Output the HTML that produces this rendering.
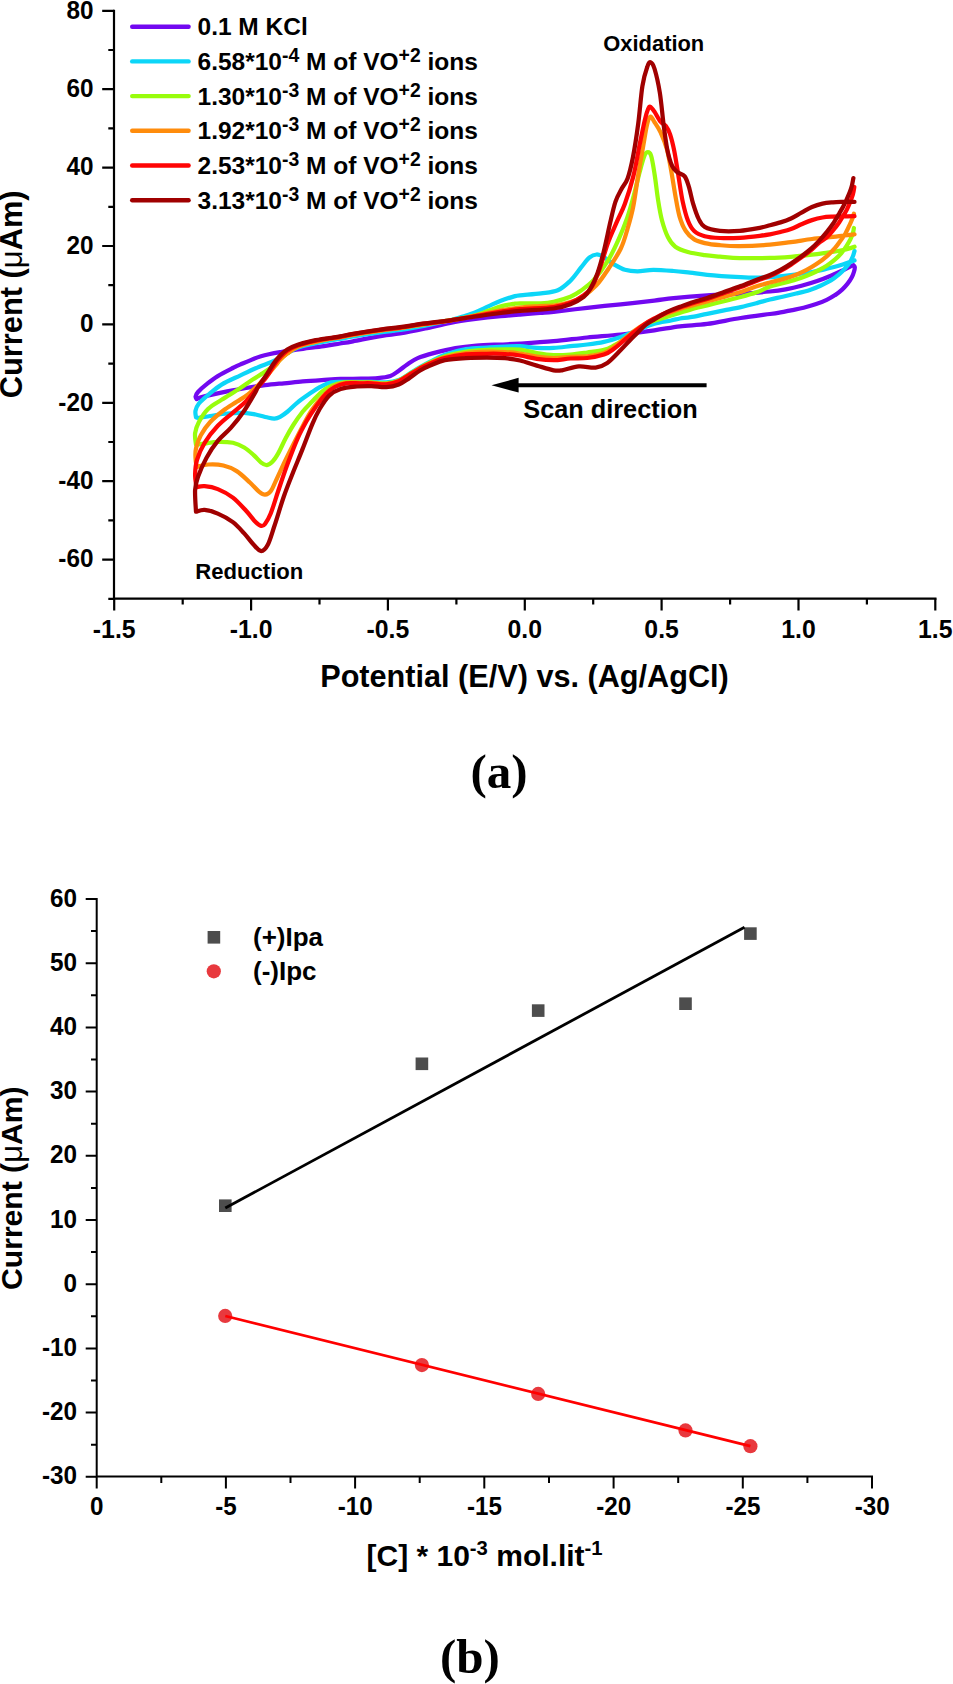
<!DOCTYPE html><html><head><meta charset="utf-8"><title>CV figure</title>
<style>html,body{margin:0;padding:0;background:#fff}svg{display:block}text{font-family:"Liberation Sans",sans-serif;font-weight:bold;fill:#000}.s{font-family:"Liberation Serif",serif}</style></head><body>
<svg width="953" height="1684" viewBox="0 0 953 1684">
<rect width="953" height="1684" fill="#fff"/>
<g stroke="#000" stroke-width="2.2" fill="none" stroke-linecap="butt">
<path d="M114.0 9.8V598.6H936.5"/>
<path d="M114.0 559.6H102.2M114.0 481.2H102.2M114.0 402.8H102.2M114.0 324.4H102.2M114.0 246.0H102.2M114.0 167.6H102.2M114.0 89.2H102.2M114.0 10.8H102.2M114.0 598.8H108.3M114.0 520.4H108.3M114.0 442.0H108.3M114.0 363.6H108.3M114.0 285.2H108.3M114.0 206.8H108.3M114.0 128.4H108.3M114.0 50.0H108.3M114.2 598.6V610.4M251.1 598.6V610.4M387.9 598.6V610.4M524.8 598.6V610.4M661.6 598.6V610.4M798.5 598.6V610.4M935.3 598.6V610.4M182.7 598.6V604.6M319.5 598.6V604.6M456.4 598.6V604.6M593.2 598.6V604.6M730.1 598.6V604.6M866.9 598.6V604.6"/>
</g>
<g font-size="24.3" text-anchor="end">
<text transform="translate(93.4 567.4) scale(1 1.07)">-60</text>
<text transform="translate(93.4 489.0) scale(1 1.07)">-40</text>
<text transform="translate(93.4 410.6) scale(1 1.07)">-20</text>
<text transform="translate(93.4 332.2) scale(1 1.07)">0</text>
<text transform="translate(93.4 253.8) scale(1 1.07)">20</text>
<text transform="translate(93.4 175.4) scale(1 1.07)">40</text>
<text transform="translate(93.4 97.0) scale(1 1.07)">60</text>
<text transform="translate(93.4 18.6) scale(1 1.07)">80</text>
</g>
<g font-size="24.8" text-anchor="middle">
<text transform="translate(114.2 638.1) scale(1 1.06)">-1.5</text>
<text transform="translate(251.1 638.1) scale(1 1.06)">-1.0</text>
<text transform="translate(387.9 638.1) scale(1 1.06)">-0.5</text>
<text transform="translate(524.8 638.1) scale(1 1.06)">0.0</text>
<text transform="translate(661.6 638.1) scale(1 1.06)">0.5</text>
<text transform="translate(798.5 638.1) scale(1 1.06)">1.0</text>
<text transform="translate(935.3 638.1) scale(1 1.06)">1.5</text>
</g>
<text font-size="30.8" text-anchor="middle" transform="translate(22.2 294.3) rotate(-90)">Current (<tspan font-weight="normal" font-size="31">μ</tspan>Am)</text>
<text font-size="30.65" text-anchor="middle" x="524.5" y="686.9">Potential (E/V) vs. (Ag/AgCl)</text>
<text class="s" font-size="49" text-anchor="middle" x="499" y="788">(a)</text>
<path d="M132.2 26.7H188.6" stroke="#7208f0" stroke-width="4.4" stroke-linecap="round" fill="none"/>
<text font-size="24.5" x="197.5" y="35.1">0.1 M KCl</text>
<path d="M132.2 61.4H188.6" stroke="#0cd6f8" stroke-width="4.4" stroke-linecap="round" fill="none"/>
<text font-size="24.5" x="197.5" y="69.8">6.58*10<tspan font-size="19.4" dy="-7.8">-4</tspan><tspan dy="7.8"> M of VO</tspan><tspan font-size="19.4" dy="-7.8">+2</tspan><tspan dy="7.8"> ions</tspan></text>
<path d="M132.2 96.1H188.6" stroke="#98fd0c" stroke-width="4.4" stroke-linecap="round" fill="none"/>
<text font-size="24.5" x="197.5" y="104.5">1.30*10<tspan font-size="19.4" dy="-7.8">-3</tspan><tspan dy="7.8"> M of VO</tspan><tspan font-size="19.4" dy="-7.8">+2</tspan><tspan dy="7.8"> ions</tspan></text>
<path d="M132.2 130.8H188.6" stroke="#ff8c0c" stroke-width="4.4" stroke-linecap="round" fill="none"/>
<text font-size="24.5" x="197.5" y="139.2">1.92*10<tspan font-size="19.4" dy="-7.8">-3</tspan><tspan dy="7.8"> M of VO</tspan><tspan font-size="19.4" dy="-7.8">+2</tspan><tspan dy="7.8"> ions</tspan></text>
<path d="M132.2 165.5H188.6" stroke="#ff0505" stroke-width="4.4" stroke-linecap="round" fill="none"/>
<text font-size="24.5" x="197.5" y="173.9">2.53*10<tspan font-size="19.4" dy="-7.8">-3</tspan><tspan dy="7.8"> M of VO</tspan><tspan font-size="19.4" dy="-7.8">+2</tspan><tspan dy="7.8"> ions</tspan></text>
<path d="M132.2 200.2H188.6" stroke="#a00000" stroke-width="4.4" stroke-linecap="round" fill="none"/>
<text font-size="24.5" x="197.5" y="208.6">3.13*10<tspan font-size="19.4" dy="-7.8">-3</tspan><tspan dy="7.8"> M of VO</tspan><tspan font-size="19.4" dy="-7.8">+2</tspan><tspan dy="7.8"> ions</tspan></text>
<g fill="none" stroke-width="4.25" stroke-linejoin="round" stroke-linecap="round">
<path stroke="#7208f0" d="M853.4 265.2C853.6 265.6 854.7 266.2 854.8 267.3C854.9 268.4 854.4 270.3 853.9 272.0C853.4 273.7 852.8 275.4 851.8 277.3C850.8 279.2 849.2 281.6 847.6 283.6C846.0 285.6 844.5 287.4 842.4 289.3C840.3 291.2 837.7 293.4 835.1 295.1C832.5 296.9 829.9 298.3 826.7 299.8C823.6 301.3 820.1 302.7 816.2 304.0C812.4 305.3 807.8 306.6 803.6 307.7C799.4 308.8 794.9 309.5 791.0 310.3C787.1 311.1 784.0 311.8 780.5 312.4C777.0 313.0 776.6 313.1 770.0 314.0C763.4 314.9 751.2 316.4 740.7 318.0C730.2 319.6 717.3 322.5 707.2 323.9C697.1 325.3 688.8 325.3 680.0 326.4C671.2 327.5 664.2 328.9 654.3 330.3C644.4 331.7 631.9 333.3 620.7 334.5C609.5 335.7 598.4 336.4 587.2 337.5C576.0 338.6 564.8 340.2 553.6 341.2C542.4 342.2 528.9 343.1 520.0 343.7C511.1 344.2 507.3 344.2 500.0 344.5C492.7 344.8 483.8 345.0 476.4 345.6C469.0 346.2 462.4 346.9 455.4 348.1C448.4 349.3 440.7 351.2 434.4 352.9C428.1 354.6 422.2 356.2 417.7 358.1C413.2 360.0 410.3 362.3 407.2 364.4C404.1 366.5 401.6 368.8 398.8 370.7C396.0 372.6 393.9 374.8 390.4 376.0C386.9 377.2 382.7 377.7 377.8 378.1C372.9 378.6 367.2 378.6 361.0 378.7C354.8 378.8 347.2 378.7 340.6 378.9C334.1 379.1 328.0 379.7 321.7 380.1C315.4 380.5 309.1 380.9 302.8 381.4C296.5 381.9 290.2 382.7 283.9 383.3C277.6 383.9 271.3 384.4 265.0 385.2C258.7 386.0 252.4 387.0 246.1 388.0C239.8 389.0 232.9 390.3 227.2 391.4C221.5 392.5 216.5 393.6 212.1 394.6C207.7 395.6 203.4 396.7 200.8 397.4C198.2 398.1 197.3 398.7 196.6 399.0L196.6 399.0C196.4 398.6 195.4 397.7 195.6 396.5C195.8 395.3 196.2 394.0 198.0 392.0C199.8 390.0 203.1 387.0 206.4 384.4C209.7 381.8 213.4 378.8 217.8 376.1C222.2 373.4 229.2 369.9 232.9 368.0C236.6 366.1 235.3 366.6 240.0 364.6C244.7 362.6 254.0 358.3 261.0 356.2C268.0 354.1 275.0 353.0 282.0 351.8C289.0 350.6 296.0 349.7 303.0 348.8C310.0 347.9 317.7 347.1 323.9 346.2C330.1 345.3 335.1 344.3 340.0 343.5C344.9 342.7 346.0 342.6 353.0 341.3C360.0 340.0 374.2 337.1 382.0 335.8C389.8 334.5 392.8 334.7 400.0 333.5C407.2 332.3 416.8 330.3 425.2 328.5C433.6 326.7 442.0 324.4 450.4 322.8C458.8 321.2 467.2 320.1 475.6 319.0C484.0 317.9 493.4 316.9 500.8 316.2C508.2 315.5 513.5 315.1 520.0 314.6C526.5 314.1 534.4 313.5 540.0 313.0C545.6 312.5 545.7 312.7 553.6 311.8C561.5 310.9 576.0 309.1 587.2 307.9C598.4 306.6 609.5 305.5 620.7 304.3C631.9 303.1 645.5 301.6 654.3 300.6C663.1 299.6 664.8 299.1 673.6 298.2C682.4 297.3 696.0 296.1 707.2 295.3C718.4 294.6 730.2 294.3 740.7 293.7C751.2 293.1 762.5 292.2 770.0 291.5C777.5 290.8 780.5 290.3 785.7 289.3C791.0 288.3 796.2 287.1 801.5 285.7C806.8 284.3 812.3 282.7 817.2 281.0C822.1 279.3 826.9 277.4 830.9 275.7C834.9 274.0 838.3 272.5 841.4 271.0C844.5 269.5 847.7 267.8 849.7 266.8C851.7 265.8 852.8 265.5 853.4 265.2"/>
<path stroke="#0cd6f8" d="M854.5 251.0C854.2 251.9 853.7 254.4 852.9 256.3C852.1 258.2 850.9 260.7 849.7 262.6C848.5 264.5 847.3 265.9 845.6 267.8C843.9 269.7 841.8 272.0 839.3 274.1C836.8 276.2 834.0 278.5 830.9 280.4C827.8 282.3 823.9 284.1 820.4 285.7C816.9 287.3 813.9 288.6 809.9 289.9C805.9 291.2 800.8 292.4 796.2 293.5C791.7 294.6 787.0 295.7 782.6 296.7C778.2 297.7 774.2 298.5 770.0 299.5C765.8 300.5 762.4 301.6 757.5 302.9C752.6 304.2 746.3 305.9 740.7 307.1C735.1 308.4 729.6 309.3 724.0 310.4C718.4 311.5 712.8 312.7 707.2 313.8C701.6 314.9 694.9 316.4 690.4 317.2C685.9 318.0 683.2 317.9 680.0 318.5C676.8 319.1 675.4 319.6 671.1 320.5C666.8 321.4 659.9 322.1 654.3 323.7C648.7 325.3 643.1 328.1 637.5 330.3C631.9 332.5 626.3 335.1 620.7 337.0C615.1 338.9 609.6 340.6 604.0 341.8C598.4 343.1 592.8 343.8 587.2 344.5C581.6 345.2 576.0 345.6 570.4 346.2C564.8 346.8 559.2 347.6 553.6 347.9C548.0 348.2 542.4 348.2 536.8 347.9C531.2 347.6 525.3 346.4 520.0 346.2C514.7 346.0 510.5 346.4 505.0 346.6C499.5 346.8 493.4 347.2 486.9 347.6C480.4 348.0 472.9 348.0 465.9 349.2C458.9 350.4 450.8 352.7 444.9 354.8C438.9 356.9 434.4 359.6 430.2 361.7C426.0 363.8 423.2 365.4 419.7 367.4C416.2 369.4 412.8 371.7 409.3 373.8C405.8 375.9 402.7 378.6 398.8 380.0C394.9 381.4 390.8 382.1 386.2 382.4C381.6 382.7 375.9 382.0 371.5 381.9C367.1 381.8 364.2 381.9 360.0 381.9C355.8 381.9 351.0 381.8 346.2 381.9C341.4 382.0 335.5 381.4 331.1 382.3C326.7 383.2 323.6 385.1 319.8 387.1C316.0 389.2 312.2 392.0 308.4 394.6C304.6 397.2 300.6 400.0 297.1 402.8C293.7 405.6 290.5 409.2 287.7 411.5C284.9 413.8 282.3 415.6 280.1 416.8C277.9 418.0 276.6 418.5 274.4 418.6C272.2 418.7 270.0 418.0 266.9 417.3C263.8 416.6 259.4 415.2 255.6 414.5C251.8 413.8 248.9 413.1 244.2 412.9C239.5 412.7 232.9 413.0 227.2 413.5C221.5 414.0 214.9 415.3 210.2 416.0C205.5 416.7 201.3 417.6 198.9 417.8C196.5 418.0 196.5 417.4 196.0 417.3L196.0 417.3C195.9 416.2 195.0 413.0 195.5 410.7C196.0 408.4 196.8 406.1 198.9 403.5C201.0 400.9 204.5 397.9 208.3 394.8C212.1 391.7 216.3 387.8 221.6 384.6C226.9 381.4 234.3 378.3 240.0 375.6C245.7 372.9 250.4 370.6 255.7 368.3C260.9 366.0 267.4 363.8 271.5 362.0C275.6 360.2 277.4 359.1 280.0 357.7C282.6 356.3 284.0 355.2 287.0 353.5C290.0 351.8 293.6 349.1 298.0 347.5C302.4 345.9 308.3 344.9 313.5 343.7C318.7 342.5 324.8 341.4 329.2 340.6C333.6 339.8 336.0 339.7 340.0 339.0C344.0 338.3 346.0 337.6 353.0 336.5C360.0 335.4 374.2 333.2 382.0 332.1C389.8 331.0 392.8 331.1 400.0 330.0C407.2 328.9 416.8 327.2 425.2 325.6C433.6 324.0 444.1 321.8 450.4 320.3C456.7 318.8 458.8 317.9 463.0 316.5C467.2 315.1 471.4 313.8 475.6 312.1C479.8 310.4 484.0 308.3 488.2 306.4C492.4 304.5 496.6 302.3 500.8 300.7C505.0 299.1 510.2 297.5 513.4 296.6C516.6 295.7 515.4 295.8 520.0 295.3C524.6 294.8 534.7 294.2 541.0 293.4C547.3 292.5 552.9 292.3 557.8 290.2C562.7 288.1 566.5 284.4 570.4 280.7C574.2 276.9 577.8 271.5 580.9 267.7C584.0 263.9 586.7 259.9 589.3 257.7C591.9 255.5 594.2 254.6 596.6 254.5C599.0 254.4 600.9 255.5 603.9 257.2C606.9 258.9 610.9 262.5 614.4 264.6C617.9 266.7 621.0 268.7 624.9 269.8C628.8 270.9 632.8 271.3 637.5 271.3C642.2 271.3 647.4 269.9 653.4 269.8C659.4 269.8 667.5 270.5 673.6 271.0C679.7 271.5 684.4 272.1 690.0 272.7C695.6 273.3 698.8 274.1 707.2 274.8C715.7 275.6 732.3 276.7 740.7 277.2C749.1 277.7 751.9 277.8 757.5 277.7C763.1 277.6 768.7 277.3 774.3 276.9C779.9 276.5 784.7 276.0 791.0 275.2C797.3 274.4 806.8 272.9 812.0 272.0C817.2 271.1 819.0 270.7 822.5 269.9C826.0 269.1 829.5 268.2 833.0 267.3C836.5 266.4 840.7 265.1 843.5 264.2C846.3 263.3 847.9 262.7 849.7 262.1C851.5 261.5 853.7 260.8 854.5 260.5"/>
<path stroke="#98fd0c" d="M853.9 228.0C853.7 228.9 853.5 231.3 852.9 233.2C852.3 235.1 851.3 237.4 850.3 239.5C849.2 241.6 848.1 243.5 846.6 245.8C845.1 248.1 843.3 250.8 841.4 253.1C839.5 255.4 837.5 257.3 835.1 259.4C832.7 261.5 829.7 263.8 826.7 265.7C823.7 267.6 820.5 269.3 817.2 271.0C813.9 272.7 810.2 274.3 806.7 275.7C803.2 277.1 800.1 278.2 796.2 279.4C792.4 280.6 788.0 281.8 783.6 283.0C779.2 284.2 774.4 285.1 770.0 286.6C765.6 288.1 762.4 290.3 757.5 292.0C752.6 293.7 746.3 295.5 740.7 297.0C735.1 298.5 729.6 299.8 724.0 301.2C718.4 302.6 712.8 304.0 707.2 305.4C701.6 306.8 696.0 308.1 690.4 309.6C684.8 311.1 678.7 313.0 673.6 314.6C668.5 316.2 664.8 317.4 660.0 319.0C655.2 320.6 649.3 322.2 645.0 324.5C640.7 326.8 637.7 330.0 634.2 332.5C630.7 335.0 627.5 337.3 624.1 339.5C620.7 341.7 617.4 343.8 614.0 345.5C610.6 347.2 608.5 348.6 604.0 349.8C599.5 351.0 592.8 351.7 587.2 352.5C581.6 353.3 576.0 354.2 570.4 354.6C564.8 355.0 559.2 355.4 553.6 355.1C548.0 354.8 542.4 353.9 536.8 353.0C531.2 352.1 525.3 350.2 520.0 349.6C514.7 349.0 510.5 349.4 505.0 349.4C499.5 349.4 493.4 349.4 486.9 349.8C480.4 350.2 472.9 350.4 465.9 351.5C458.9 352.6 450.8 354.5 444.9 356.3C438.9 358.1 434.4 360.6 430.2 362.5C426.0 364.4 423.2 366.0 419.7 368.0C416.2 370.0 412.8 372.2 409.3 374.3C405.8 376.4 402.7 379.1 398.8 380.6C394.9 382.1 390.8 383.0 386.2 383.3C381.6 383.6 375.9 382.6 371.5 382.4C367.1 382.2 364.9 382.3 360.0 382.3C355.1 382.3 347.2 382.0 342.4 382.6C337.6 383.2 334.6 384.5 331.1 386.0C327.7 387.5 324.9 389.2 321.7 391.8C318.5 394.4 315.3 398.2 312.2 401.5C309.1 404.8 305.9 407.6 302.8 411.5C299.7 415.4 296.1 420.6 293.3 425.0C290.5 429.4 288.3 433.3 285.8 438.0C283.3 442.7 280.4 449.5 278.2 453.4C276.0 457.3 274.5 459.6 272.6 461.5C270.7 463.4 268.8 464.9 266.9 465.1C265.0 465.3 263.4 464.3 261.2 462.6C259.0 460.9 256.5 457.6 253.7 455.1C250.9 452.6 247.7 449.6 244.2 447.5C240.7 445.4 237.3 443.8 232.9 442.8C228.5 441.9 222.5 441.7 217.8 441.8C213.1 441.9 208.2 443.2 204.6 443.7C201.0 444.2 197.4 444.5 196.0 444.7L196.0 444.7C195.8 442.8 194.6 437.1 195.1 433.3C195.6 429.5 196.7 426.1 198.9 422.0C201.1 417.9 204.5 412.5 208.3 408.8C212.1 405.1 216.3 403.2 221.6 399.8C226.9 396.4 235.2 391.3 240.0 388.2C244.8 385.1 246.5 383.6 250.5 381.0C254.5 378.4 260.9 374.5 264.1 372.4C267.4 370.3 268.0 369.7 270.0 368.4C272.0 367.1 274.4 366.0 276.0 364.6C277.6 363.1 278.0 361.6 279.9 359.7C281.8 357.8 284.2 355.5 287.2 353.3C290.2 351.1 293.3 348.5 297.7 346.6C302.1 344.7 308.2 343.4 313.5 342.1C318.8 340.8 324.8 339.6 329.2 338.8C333.6 338.0 336.0 337.9 340.0 337.2C344.0 336.5 346.0 335.8 353.0 334.6C360.0 333.4 374.2 331.2 382.0 330.1C389.8 329.0 392.8 329.0 400.0 328.0C407.2 327.0 416.8 325.4 425.2 324.1C433.6 322.8 444.1 321.2 450.4 320.2C456.7 319.2 458.8 318.7 463.0 317.9C467.2 317.1 471.4 316.4 475.6 315.2C479.8 314.0 484.0 312.3 488.2 310.8C492.4 309.3 496.6 307.5 500.8 306.4C505.0 305.2 510.2 304.4 513.4 303.9C516.6 303.4 515.4 303.4 520.0 303.3C524.6 303.2 535.4 303.6 541.0 303.3C546.6 303.1 548.7 302.9 553.6 301.8C558.5 300.7 565.9 298.5 570.4 296.7C574.9 294.9 576.5 293.8 580.4 291.0C584.2 288.2 588.9 285.3 593.5 280.2C598.1 275.1 603.9 267.1 608.1 260.3C612.3 253.5 615.5 246.4 618.6 239.4C621.8 232.4 624.5 225.4 627.0 218.4C629.5 211.4 631.2 205.1 633.3 197.4C635.4 189.7 637.9 178.8 639.6 172.2C641.4 165.5 642.6 160.8 643.8 157.5C645.0 154.2 645.8 152.7 647.0 152.3C648.2 152.0 649.7 151.7 651.0 155.4C652.3 159.1 653.4 167.0 654.6 174.3C655.8 181.7 656.8 191.8 658.0 199.5C659.2 207.2 660.3 214.2 662.0 220.5C663.7 226.8 665.8 232.9 668.0 237.3C670.2 241.7 672.0 244.2 675.3 246.7C678.6 249.1 683.0 250.6 687.9 252.0C692.8 253.4 699.4 254.3 704.7 255.1C710.1 255.9 714.1 256.1 720.0 256.6C725.9 257.1 731.5 257.9 739.8 258.1C748.1 258.3 761.5 258.1 770.0 257.9C778.5 257.7 784.0 257.3 791.0 256.8C798.0 256.3 805.9 255.4 812.0 254.7C818.1 254.0 823.3 253.2 827.7 252.6C832.1 252.0 834.9 251.6 838.2 251.0C841.5 250.4 845.0 249.6 847.7 248.9C850.4 248.2 853.4 247.2 854.5 246.8"/>
<path stroke="#ff8c0c" d="M853.9 213.8C853.6 214.6 853.1 216.7 852.4 218.5C851.7 220.3 850.8 222.4 849.7 224.8C848.6 227.2 847.0 230.8 845.6 233.2C844.2 235.6 843.1 237.1 841.4 239.5C839.6 241.9 837.5 245.1 835.1 247.9C832.7 250.7 829.7 253.7 826.7 256.3C823.7 258.9 820.5 261.3 817.2 263.6C813.9 265.9 810.2 268.0 806.7 269.9C803.2 271.8 800.1 273.2 796.2 274.7C792.4 276.2 788.0 277.6 783.6 278.9C779.2 280.2 774.4 281.3 770.0 282.5C765.6 283.7 762.4 284.5 757.5 286.1C752.6 287.7 746.3 290.2 740.7 292.0C735.1 293.8 729.6 295.4 724.0 297.0C718.4 298.6 712.8 300.0 707.2 301.5C701.6 303.0 694.9 304.8 690.4 306.0C685.9 307.2 684.3 307.6 680.0 309.0C675.7 310.4 668.7 312.8 664.4 314.5C660.1 316.2 657.7 317.4 654.3 319.0C650.9 320.6 647.6 322.4 644.2 324.4C640.9 326.4 637.6 328.6 634.2 331.0C630.9 333.4 627.5 336.3 624.1 339.0C620.7 341.7 617.4 344.8 614.0 347.1C610.6 349.4 608.5 351.5 604.0 353.0C599.5 354.5 592.8 355.7 587.2 356.3C581.6 356.9 576.0 356.5 570.4 356.8C564.8 357.1 559.2 358.0 553.6 358.0C548.0 358.0 542.4 357.4 536.8 356.6C531.2 355.9 525.3 354.3 520.0 353.5C514.7 352.7 510.5 352.3 505.0 352.0C499.5 351.7 493.4 351.4 486.9 351.6C480.4 351.8 472.9 352.2 465.9 353.2C458.9 354.1 450.8 355.7 444.9 357.3C438.9 358.9 434.4 361.2 430.2 363.0C426.0 364.8 423.2 366.4 419.7 368.3C416.2 370.2 412.8 372.5 409.3 374.6C405.8 376.7 402.7 379.3 398.8 380.9C394.9 382.4 390.8 383.6 386.2 383.9C381.6 384.2 375.9 383.0 371.5 382.8C367.1 382.6 364.5 382.8 360.0 382.8C355.5 382.8 348.8 382.3 344.3 383.0C339.8 383.7 336.4 384.9 333.0 387.0C329.6 389.1 327.1 391.8 323.6 395.5C320.1 399.2 315.7 404.4 312.2 409.5C308.7 414.6 305.9 420.2 302.8 426.0C299.7 431.8 296.5 438.2 293.3 444.5C290.1 450.8 286.7 457.6 283.9 463.5C281.1 469.4 278.5 475.2 276.3 479.8C274.1 484.4 272.6 488.8 270.7 491.3C268.8 493.8 266.9 494.6 265.0 494.7C263.1 494.8 261.8 493.9 259.3 491.9C256.8 489.9 253.7 486.0 249.9 482.5C246.1 479.0 241.1 473.9 236.7 471.1C232.3 468.3 228.1 466.6 223.4 465.5C218.7 464.4 212.8 464.2 208.3 464.5C203.8 464.8 198.5 466.6 196.5 467.0L196.5 467.0C196.3 465.5 195.6 461.1 195.5 458.0C195.4 454.9 195.1 452.2 196.0 448.4C196.9 444.6 198.4 439.6 200.8 435.2C203.2 430.8 206.4 426.1 210.2 422.0C214.0 417.9 219.0 413.9 223.4 410.5C227.8 407.1 232.6 404.5 236.7 401.8C240.8 399.1 244.2 397.3 248.0 394.3C251.8 391.3 255.8 387.4 259.3 384.0C262.8 380.6 266.0 376.8 268.8 373.6C271.6 370.4 274.1 367.3 276.0 365.0C277.9 362.7 278.0 361.9 279.9 360.0C281.8 358.1 284.2 355.8 287.2 353.6C290.2 351.4 293.3 348.8 297.7 346.9C302.1 345.0 308.2 343.7 313.5 342.4C318.8 341.1 324.8 339.8 329.2 339.0C333.6 338.2 336.0 338.1 340.0 337.4C344.0 336.7 346.0 336.0 353.0 334.8C360.0 333.6 374.2 331.4 382.0 330.3C389.8 329.2 392.8 329.1 400.0 328.1C407.2 327.1 416.8 325.4 425.2 324.1C433.6 322.8 442.0 321.9 450.4 320.5C458.8 319.1 467.2 317.2 475.6 315.5C484.0 313.8 493.4 311.6 500.8 310.3C508.2 309.0 513.5 308.3 520.0 307.6C526.5 306.9 534.4 306.5 540.0 306.1C545.6 305.8 548.5 306.2 553.6 305.5C558.7 304.8 565.5 303.5 570.4 302.0C575.3 300.5 578.7 299.3 583.0 296.5C587.3 293.7 592.0 290.0 596.3 285.4C600.5 280.8 604.4 274.8 608.5 268.7C612.6 262.6 617.5 255.4 620.7 248.8C623.9 242.2 625.5 235.7 627.5 228.9C629.5 222.1 631.2 216.7 633.0 207.9C634.8 199.2 636.3 186.9 638.0 176.4C639.7 165.9 641.9 153.7 643.4 144.9C644.9 136.2 646.0 128.6 647.2 123.9C648.4 119.2 649.3 116.9 650.5 116.6C651.7 116.2 652.6 119.2 654.3 121.8C656.0 124.4 658.5 127.8 660.6 132.3C662.7 136.9 665.1 142.8 666.9 149.1C668.6 155.4 669.7 162.4 671.1 170.1C672.5 177.8 673.9 187.6 675.3 195.3C676.7 203.0 677.8 210.4 679.5 216.3C681.2 222.2 683.3 227.2 685.8 231.0C688.2 234.8 691.1 237.4 694.2 239.4C697.4 241.4 700.4 242.1 704.7 243.1C709.0 244.1 714.1 244.7 720.0 245.2C725.9 245.7 731.5 246.2 739.8 246.1C748.1 246.0 761.5 245.4 770.0 244.7C778.5 244.0 784.0 243.0 791.0 242.1C798.0 241.2 805.0 239.9 812.0 239.0C819.0 238.1 827.8 237.5 833.0 236.9C838.2 236.3 839.9 235.9 843.5 235.5C847.1 235.1 852.7 234.5 854.5 234.3"/>
<path stroke="#ff0505" d="M854.3 187.0C854.1 188.2 853.6 192.0 852.9 194.4C852.2 196.8 851.3 199.2 850.3 201.7C849.3 204.1 848.2 206.8 847.1 209.1C846.0 211.4 845.0 212.9 843.5 215.4C842.0 217.9 840.0 221.3 838.2 223.8C836.5 226.3 834.9 228.2 833.0 230.5C831.1 232.8 829.0 235.4 826.7 237.4C824.4 239.4 821.8 240.6 819.3 242.6C816.8 244.6 815.0 246.9 812.0 249.4C809.0 251.9 805.0 254.8 801.5 257.3C798.0 259.8 794.5 262.3 791.0 264.6C787.5 266.9 784.0 269.0 780.5 270.9C777.0 272.8 773.8 274.4 770.0 276.0C766.2 277.6 762.4 278.6 757.5 280.5C752.6 282.4 746.3 285.0 740.7 287.1C735.1 289.2 729.6 291.0 724.0 293.0C718.4 295.0 712.8 297.1 707.2 298.9C701.6 300.7 694.9 302.4 690.4 303.9C685.9 305.3 684.3 306.0 680.0 307.6C675.7 309.2 668.7 311.7 664.4 313.5C660.1 315.3 657.7 316.7 654.3 318.5C650.9 320.3 647.6 322.1 644.2 324.4C640.9 326.6 637.6 329.3 634.2 332.0C630.9 334.7 627.5 337.6 624.1 340.4C620.7 343.2 617.4 346.4 614.0 348.8C610.6 351.2 608.5 353.1 604.0 354.6C599.5 356.1 592.8 357.4 587.2 358.0C581.6 358.6 576.0 358.1 570.4 358.5C564.8 358.9 559.2 360.1 553.6 360.2C548.0 360.2 542.4 359.6 536.8 358.8C531.2 358.0 525.3 356.3 520.0 355.5C514.7 354.7 510.5 354.3 505.0 354.0C499.5 353.7 493.4 353.7 486.9 353.8C480.4 353.9 472.9 353.7 465.9 354.4C458.9 355.1 450.8 356.6 444.9 358.1C438.9 359.6 434.4 361.6 430.2 363.4C426.0 365.1 423.2 366.7 419.7 368.6C416.2 370.5 412.8 372.8 409.3 374.9C405.8 377.0 402.7 379.6 398.8 381.2C394.9 382.8 390.8 384.0 386.2 384.4C381.6 384.8 375.9 383.5 371.5 383.3C367.1 383.1 364.2 383.3 360.0 383.3C355.8 383.3 350.4 382.7 346.2 383.3C342.0 383.9 338.4 385.1 334.9 387.0C331.4 388.9 328.5 391.1 325.4 394.4C322.2 397.6 319.1 402.1 316.0 406.5C312.9 410.9 309.8 415.5 306.6 421.0C303.5 426.5 300.2 432.5 297.1 439.6C294.0 446.7 290.9 455.0 287.7 463.6C284.5 472.2 281.0 482.7 278.2 491.0C275.4 499.3 272.9 508.0 270.7 513.5C268.5 519.0 266.6 521.9 265.0 524.0C263.4 526.1 262.8 526.2 261.2 525.9C259.6 525.6 258.1 524.6 255.6 522.1C253.1 519.6 249.9 514.9 246.1 510.8C242.3 506.7 237.6 501.2 232.9 497.6C228.2 494.0 222.5 491.0 217.8 489.1C213.1 487.2 208.2 486.5 204.6 486.2C201.0 485.9 197.8 487.0 196.5 487.2L196.5 487.2C196.3 485.1 195.0 479.5 195.1 474.9C195.2 470.3 195.4 465.1 197.0 459.8C198.6 454.5 201.1 448.5 204.6 442.8C208.1 437.1 213.1 430.8 217.8 425.8C222.5 420.8 228.2 416.7 232.9 412.6C237.6 408.5 242.3 405.0 246.1 401.2C249.9 397.4 252.2 393.9 255.6 389.9C259.0 385.9 263.3 381.4 266.5 377.1C269.7 372.8 272.2 367.6 274.6 364.2C277.0 360.8 278.5 359.1 280.6 356.8C282.7 354.6 284.4 352.6 287.2 350.7C290.0 348.8 293.3 347.1 297.7 345.5C302.1 343.9 308.2 342.3 313.5 341.1C318.8 339.9 324.8 339.1 329.2 338.4C333.6 337.7 336.0 337.5 340.0 336.8C344.0 336.1 346.0 335.4 353.0 334.2C360.0 333.0 374.2 330.8 382.0 329.7C389.8 328.6 392.8 328.6 400.0 327.6C407.2 326.6 416.8 324.9 425.2 323.7C433.6 322.5 442.0 321.6 450.4 320.3C458.8 319.0 467.2 317.4 475.6 316.0C484.0 314.6 493.4 312.7 500.8 311.6C508.2 310.5 511.2 310.0 520.0 309.2C528.8 308.4 545.2 308.1 553.6 307.0C562.0 305.9 565.4 304.8 570.4 302.8C575.4 300.9 580.1 298.1 583.8 295.3C587.5 292.5 589.8 290.4 592.4 286.0C595.0 281.6 597.1 275.9 599.7 268.7C602.3 261.4 605.3 250.2 608.1 242.5C610.9 234.8 613.7 229.1 616.5 222.6C619.3 216.1 622.1 211.4 624.9 203.7C627.7 196.0 630.8 186.2 633.3 176.4C635.8 166.6 637.7 154.3 639.6 144.9C641.5 135.5 643.5 125.6 644.9 119.7C646.3 113.8 647.1 111.5 648.0 109.3C648.9 107.1 649.1 106.3 650.1 106.7C651.1 107.1 652.5 108.9 654.3 111.4C656.0 113.9 658.7 119.4 660.6 121.8C662.5 124.2 664.3 123.9 665.9 126.0C667.5 128.1 668.7 130.2 670.1 134.4C671.5 138.6 672.9 144.2 674.3 151.2C675.7 158.2 677.1 168.0 678.5 176.4C679.9 184.8 681.1 194.2 682.7 201.6C684.3 208.9 686.0 215.6 687.9 220.5C689.8 225.4 691.4 228.4 694.2 231.0C697.0 233.6 700.4 235.0 704.7 236.2C709.0 237.4 714.1 237.7 720.0 238.0C725.9 238.3 733.2 238.2 739.8 237.8C746.4 237.4 754.8 236.4 759.8 235.8C764.8 235.2 766.5 234.9 770.0 234.3C773.5 233.7 777.0 232.9 780.5 232.0C784.0 231.1 787.5 230.3 791.0 229.0C794.5 227.7 798.0 225.8 801.5 224.3C805.0 222.8 808.5 221.2 812.0 220.1C815.5 219.0 819.0 218.1 822.5 217.5C826.0 216.9 829.5 216.8 833.0 216.6C836.5 216.4 839.9 216.5 843.5 216.4C847.1 216.3 852.7 216.2 854.5 216.2"/>
<path stroke="#a00000" d="M853.4 178.1C853.1 179.4 852.4 183.6 851.8 186.0C851.2 188.4 850.6 190.0 849.7 192.3C848.8 194.6 847.6 197.3 846.6 199.6C845.6 201.9 844.7 203.6 843.5 205.9C842.3 208.2 841.0 210.3 839.3 213.3C837.5 216.3 835.1 220.7 833.0 223.8C830.9 227.0 829.0 229.4 826.7 232.2C824.4 235.0 821.8 238.0 819.3 240.6C816.8 243.2 815.0 245.3 812.0 247.9C809.0 250.5 805.0 253.7 801.5 256.3C798.0 258.9 794.5 261.3 791.0 263.6C787.5 265.9 784.0 268.0 780.5 269.9C777.0 271.8 773.8 273.4 770.0 275.0C766.2 276.6 762.4 277.6 757.5 279.5C752.6 281.4 746.3 284.0 740.7 286.1C735.1 288.2 729.6 290.0 724.0 292.0C718.4 294.0 712.8 296.1 707.2 297.9C701.6 299.7 694.9 301.4 690.4 302.9C685.9 304.4 683.2 305.6 680.0 306.8C676.8 308.0 674.0 308.9 671.1 310.1C668.2 311.4 665.5 312.8 662.7 314.3C659.9 315.9 657.1 317.7 654.3 319.4C651.5 321.1 648.7 322.4 645.9 324.6C643.1 326.8 640.3 330.0 637.5 332.8C634.7 335.6 631.9 338.3 629.1 341.2C626.3 344.1 624.3 346.4 620.7 350.0C617.1 353.6 611.5 360.0 607.3 362.9C603.1 365.8 600.4 367.0 595.6 367.6C590.9 368.2 584.4 365.9 578.8 366.4C573.2 366.8 566.2 369.6 562.0 370.3C557.8 371.0 557.8 371.1 553.6 370.3C549.4 369.5 542.4 367.2 536.8 365.6C531.2 364.0 525.3 361.7 520.0 360.5C514.7 359.3 510.5 358.7 505.0 358.2C499.5 357.7 493.4 357.6 486.9 357.6C480.4 357.6 472.9 357.7 465.9 358.1C458.9 358.5 450.8 359.0 444.9 360.2C438.9 361.4 434.4 363.8 430.2 365.5C426.0 367.2 423.2 368.6 419.7 370.7C416.2 372.8 412.8 375.8 409.3 378.1C405.8 380.4 402.7 382.9 398.8 384.4C394.9 385.9 390.8 386.8 386.2 387.1C381.6 387.4 376.4 386.2 371.5 386.1C366.6 386.0 361.9 386.0 356.8 386.5C351.7 387.0 345.2 387.5 340.6 389.0C336.0 390.5 332.7 392.3 329.2 395.6C325.7 398.9 322.6 404.0 319.8 408.8C317.0 413.6 315.0 417.7 312.2 424.3C309.4 430.9 305.9 440.5 302.8 448.4C299.7 456.3 296.5 463.8 293.3 471.8C290.1 479.8 287.0 487.3 283.9 496.3C280.8 505.3 277.1 517.9 274.4 526.0C271.7 534.1 270.0 540.6 267.8 544.8C265.6 549.0 263.6 551.0 261.2 551.0C258.8 551.0 256.5 547.7 253.7 544.8C250.9 541.9 247.7 537.2 244.2 533.4C240.7 529.6 237.3 525.4 232.9 522.1C228.5 518.8 222.5 515.6 217.8 513.6C213.1 511.6 208.2 510.1 204.6 509.8C201.0 509.5 197.4 511.4 196.0 511.7L196.0 511.7C195.8 508.1 194.8 495.8 195.1 490.0C195.4 484.2 196.1 482.2 198.0 476.8C199.9 471.4 203.1 463.9 206.4 457.9C209.7 451.9 213.7 445.9 217.8 440.9C221.9 435.9 226.6 432.7 231.0 427.7C235.4 422.7 240.1 416.7 244.2 410.7C248.3 404.7 253.3 395.7 255.6 391.8C257.9 387.9 256.0 390.0 257.8 387.2C259.6 384.4 263.6 379.1 266.2 375.2C268.8 371.3 271.3 366.8 273.6 363.6C275.9 360.4 277.6 358.2 279.9 355.8C282.2 353.4 284.2 351.3 287.2 349.5C290.2 347.7 293.3 346.3 297.7 344.8C302.1 343.3 308.2 341.7 313.5 340.6C318.8 339.5 324.8 338.7 329.2 338.0C333.6 337.3 336.0 337.1 340.0 336.4C344.0 335.7 346.0 335.0 353.0 333.8C360.0 332.6 374.2 330.4 382.0 329.3C389.8 328.2 392.8 328.2 400.0 327.2C407.2 326.2 416.8 324.5 425.2 323.4C433.6 322.2 442.0 321.4 450.4 320.3C458.8 319.2 467.2 317.7 475.6 316.5C484.0 315.3 493.4 313.9 500.8 313.0C508.2 312.1 511.2 311.6 520.0 310.8C528.8 310.1 545.2 309.6 553.6 308.5C562.0 307.4 565.4 306.3 570.4 304.3C575.4 302.3 580.4 299.3 583.8 296.7C587.1 294.1 588.2 292.5 590.5 288.5C592.8 284.5 595.4 279.2 597.6 272.9C599.8 266.6 601.8 259.3 603.9 250.9C606.0 242.5 608.3 230.8 610.2 222.6C612.1 214.4 613.6 207.2 615.5 201.6C617.4 196.0 619.5 192.8 621.5 189.0C623.5 185.2 625.7 183.8 627.6 178.5C629.5 173.2 631.1 166.6 632.9 157.5C634.7 148.4 636.6 135.8 638.2 123.9C639.8 112.0 640.9 95.7 642.4 86.2C643.9 76.7 645.9 70.8 647.3 66.8C648.6 62.8 649.3 61.8 650.5 62.2C651.7 62.6 653.1 64.0 654.6 69.0C656.1 74.0 658.3 83.3 659.8 92.5C661.3 101.7 662.3 114.5 663.5 123.9C664.7 133.3 665.8 142.1 667.2 149.1C668.6 156.1 670.4 162.1 672.1 165.9C673.8 169.8 675.3 170.4 677.4 172.2C679.5 173.9 682.8 173.9 684.7 176.4C686.6 178.9 687.5 182.4 688.9 186.9C690.3 191.4 691.5 198.4 693.1 203.7C694.7 208.9 696.5 214.6 698.4 218.4C700.3 222.2 701.1 224.7 704.7 226.8C708.3 228.9 714.0 230.1 719.9 230.8C725.8 231.5 733.1 231.3 739.8 230.8C746.4 230.3 754.8 228.7 759.8 227.8C764.8 226.9 766.5 226.2 770.0 225.3C773.5 224.4 777.0 223.5 780.5 222.4C784.0 221.3 787.5 220.1 791.0 218.5C794.5 216.9 798.0 214.6 801.5 212.7C805.0 210.8 808.5 208.5 812.0 207.0C815.5 205.5 819.0 204.4 822.5 203.6C826.0 202.8 829.5 202.6 833.0 202.3C836.5 202.0 839.9 202.0 843.5 201.9C847.1 201.8 852.7 201.9 854.5 201.9"/>
</g>
<text font-size="21.9" x="603.3" y="50.7">Oxidation</text>
<text font-size="22.1" x="195.3" y="579.3">Reduction</text>
<text font-size="25.3" x="523.3" y="417.6">Scan direction</text>
<path d="M517 385.2H706.6" stroke="#000" stroke-width="4" fill="none"/>
<path d="M491.5 385.2L518.6 377.8V392.6Z" fill="#000"/>
<g stroke="#000" stroke-width="2" fill="none">
<path d="M96.7 897.9V1476.5H873.0"/>
<path d="M96.7 1476.8H85.7M96.7 1412.6H85.7M96.7 1348.4H85.7M96.7 1284.2H85.7M96.7 1220.0H85.7M96.7 1155.8H85.7M96.7 1091.6H85.7M96.7 1027.4H85.7M96.7 963.2H85.7M96.7 899.0H85.7M96.7 1444.7H91.0M96.7 1380.5H91.0M96.7 1316.3H91.0M96.7 1252.1H91.0M96.7 1187.9H91.0M96.7 1123.7H91.0M96.7 1059.5H91.0M96.7 995.3H91.0M96.7 931.1H91.0M96.7 1476.5V1488.6M225.9 1476.5V1488.6M355.1 1476.5V1488.6M484.3 1476.5V1488.6M613.6 1476.5V1488.6M742.8 1476.5V1488.6M872.0 1476.5V1488.6M161.3 1476.5V1482.9M290.5 1476.5V1482.9M419.7 1476.5V1482.9M549.0 1476.5V1482.9M678.2 1476.5V1482.9M807.4 1476.5V1482.9"/>
</g>
<g font-size="24.3" text-anchor="end">
<text transform="translate(77.0 1484.4) scale(1 1.07)">-30</text>
<text transform="translate(77.0 1420.2) scale(1 1.07)">-20</text>
<text transform="translate(77.0 1356.0) scale(1 1.07)">-10</text>
<text transform="translate(77.0 1291.8) scale(1 1.07)">0</text>
<text transform="translate(77.0 1227.6) scale(1 1.07)">10</text>
<text transform="translate(77.0 1163.4) scale(1 1.07)">20</text>
<text transform="translate(77.0 1099.2) scale(1 1.07)">30</text>
<text transform="translate(77.0 1035.0) scale(1 1.07)">40</text>
<text transform="translate(77.0 970.8) scale(1 1.07)">50</text>
<text transform="translate(77.0 906.6) scale(1 1.07)">60</text>
</g>
<g font-size="24.2" text-anchor="middle">
<text transform="translate(96.8 1515.1) scale(1 1.07)">0</text>
<text transform="translate(226.0 1515.1) scale(1 1.07)">-5</text>
<text transform="translate(355.2 1515.1) scale(1 1.07)">-10</text>
<text transform="translate(484.4 1515.1) scale(1 1.07)">-15</text>
<text transform="translate(613.7 1515.1) scale(1 1.07)">-20</text>
<text transform="translate(742.9 1515.1) scale(1 1.07)">-25</text>
<text transform="translate(872.1 1515.1) scale(1 1.07)">-30</text>
</g>
<text font-size="30.1" text-anchor="middle" transform="translate(22.2 1188.2) rotate(-90)">Current (<tspan font-weight="normal" font-size="31">μ</tspan>Am)</text>
<text font-size="30" x="366.5" y="1565.6">[C] * 10<tspan font-size="20.3" dy="-11">-3</tspan><tspan dy="11"> mol.lit</tspan><tspan font-size="20.3" dy="-11">-1</tspan></text>
<text class="s" font-size="49" text-anchor="middle" x="470" y="1673">(b)</text>
<rect x="219.0" y="1199.4" width="12.6" height="12.6" fill="#4d4d4d"/>
<rect x="415.6" y="1057.5" width="12.6" height="12.6" fill="#4d4d4d"/>
<rect x="531.9" y="1004.3" width="12.6" height="12.6" fill="#4d4d4d"/>
<rect x="679.2" y="997.4" width="12.6" height="12.6" fill="#4d4d4d"/>
<rect x="744.1" y="927.3" width="12.6" height="12.6" fill="#4d4d4d"/>
<rect x="207.6" y="931.0" width="12.6" height="12.6" fill="#4d4d4d"/>
<circle cx="225.2" cy="1315.9" r="7.1" fill="#e8393e"/>
<circle cx="421.9" cy="1365.1" r="7.1" fill="#e8393e"/>
<circle cx="538.2" cy="1393.9" r="7.1" fill="#e8393e"/>
<circle cx="685.5" cy="1430.4" r="7.1" fill="#e8393e"/>
<circle cx="750.4" cy="1446.2" r="7.1" fill="#e8393e"/>
<circle cx="213.8" cy="971.3" r="7.1" fill="#e8393e"/>
<path d="M225.3 1208L744.5 927.3" stroke="#000" stroke-width="2.8" fill="none"/>
<path d="M225.3 1316L750.4 1446.2" stroke="#ff0000" stroke-width="2.8" fill="none"/>
<text font-size="26" x="253" y="946.1">(+)Ipa</text>
<text font-size="26" x="253" y="979.7">(-)Ipc</text>
</svg></body></html>
